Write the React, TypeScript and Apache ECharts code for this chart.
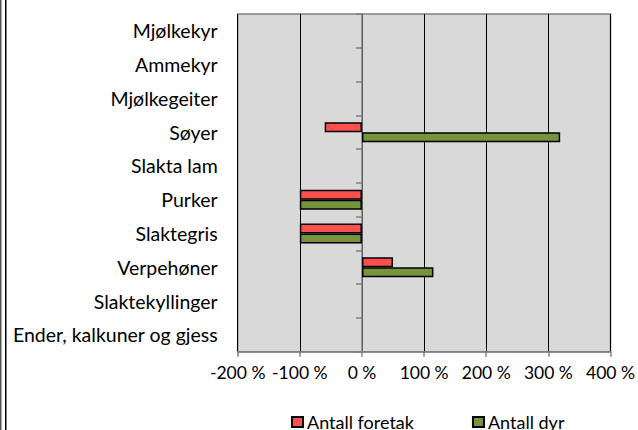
import React, { useEffect, useRef } from "react";
import * as echarts from "echarts";

const categories = [
  "Mjølkekyr",
  "Ammekyr",
  "Mjølkegeiter",
  "Søyer",
  "Slakta lam",
  "Purker",
  "Slaktegris",
  "Verpehøner",
  "Slaktekyllinger",
  "Ender, kalkuner og gjess",
];
const antallForetak = [null, null, null, -60, null, -100, -100, 50, null, null];
const antallDyr = [null, null, null, 319, null, -100, -100, 115, null, null];
const seriesNames = ["Antall foretak", "Antall dyr"];

const FONT = "Lato";

export default function App() {
  const ref = useRef<HTMLDivElement>(null);
  useEffect(() => {
    document.body.style.margin = "0";
    const chart = echarts.init(ref.current!, null, { renderer: "svg" });
    chart.setOption({
      animation: false,
      textStyle: { fontFamily: FONT },
      grid: {
        left: 237.7,
        right: 25,
        top: 14,
        bottom: 78.3,
        show: true,
        backgroundColor: "#d9d9d9",
        borderColor: "#808080",
        borderWidth: 1.5,
      },
      legend: {
        data: seriesNames,
        left: 286,
        top: 408,
        itemWidth: 11,
        itemHeight: 10,
        itemGap: 58,
        icon: "rect",
        textStyle: { fontFamily: FONT, fontSize: 18, color: "#000", padding: [0, 0, 0, -1] },
      },
      xAxis: {
        type: "value",
        min: -200,
        max: 400,
        interval: 100,
        axisLine: { show: true, lineStyle: { color: "#808080", width: 1.5 } },
        axisTick: { show: true, length: 5, lineStyle: { color: "#808080", width: 1.5 } },
        splitLine: { show: true, lineStyle: { color: "#000", width: 1 } },
        axisLabel: {
          formatter: (v: number) => `${v} %`,
          fontFamily: FONT,
          fontSize: 17.5,
          color: "#000",
          margin: 12,
        },
      },
      yAxis: [
        {
          type: "category",
          data: categories,
          inverse: true,
          position: "left",
          axisLine: { show: true, onZero: true, lineStyle: { color: "#808080", width: 1.5 } },
          axisTick: { show: true, length: 6, lineStyle: { color: "#808080", width: 1.5 } },
          axisLabel: { show: false },
          splitLine: { show: false },
        },
        {
          type: "category",
          data: categories,
          inverse: true,
          position: "left",
          axisLine: { show: false, onZero: false },
          axisTick: { show: false },
          axisLabel: {
            show: true,
            margin: 20,
            fontFamily: FONT,
            fontSize: 19.5,
            color: "#000",
          },
          splitLine: { show: false },
        },
      ],
      series: [
        {
          name: seriesNames[0],
          type: "bar",
          data: antallForetak,
          yAxisIndex: 0,
          barWidth: 10,
          barGap: "0%",
          itemStyle: { color: "#ff5050", borderColor: "#000", borderWidth: 1.5 },
        },
        {
          name: seriesNames[1],
          type: "bar",
          data: antallDyr,
          yAxisIndex: 0,
          barWidth: 10,
          barGap: "0%",
          itemStyle: { color: "#77933c", borderColor: "#000", borderWidth: 1.5 },
        },
      ],
      graphic: [
        { type: "rect", shape: { x: 0, y: 0, width: 1.5, height: 430 }, style: { fill: "#555" } },
        { type: "rect", shape: { x: 5, y: 0, width: 1.5, height: 430 }, style: { fill: "#000" } },
      ],
    });
    return () => chart.dispose();
  }, []);
  return <div ref={ref} style={{ width: 638, height: 430 }} />;
}
